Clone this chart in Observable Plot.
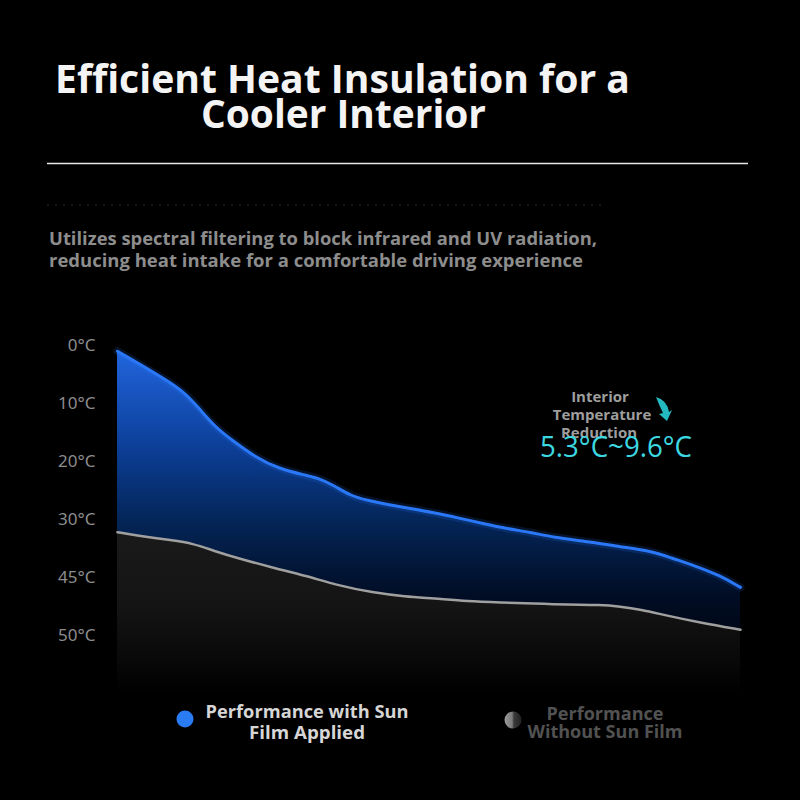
<!DOCTYPE html>
<html>
<head>
<meta charset="utf-8">
<script src="https://cdn.jsdelivr.net/npm/d3@7"></script>
<script src="https://cdn.jsdelivr.net/npm/@observablehq/plot@0.6"></script>
<style>
  html, body { margin: 0; padding: 0; background: #000; width: 800px; height: 800px; overflow: hidden; }
  #page { position: relative; width: 800px; height: 800px; background: #000; }
  #spacer { height: 300px; }
  #overlay { position: absolute; left: 0; top: 0; pointer-events: none; }
  #overlay text { font-family: "Open Sans", "Noto Sans", sans-serif; }
</style>
</head>
<body>
<div id="page">
  <div id="spacer"></div>
  <div id="chart"></div>
  <svg id="overlay" width="800" height="800" viewBox="0 0 800 800"></svg>
</div>
<script>
// ---- Data (x: relative time 0–100 across the chart, y: temperature-axis position units) ----
const xWith   = [0, 3.4, 8.8, 10.9, 13.0, 15.7, 18.5, 22.2, 25.8, 30.2, 32.1, 34.7, 37.4, 40.1, 43.3, 47.0, 50.7, 54.6, 58.7, 62.6, 66.3, 70.0, 75.4, 80.7, 86.0, 88.8, 92.5, 96.8, 100];
const yWith   = [1.0, 3.1, 6.6, 8.3, 10.7, 14.1, 16.4, 19.3, 21.2, 22.4, 22.8, 24.1, 25.9, 26.7, 27.4, 28.1, 28.8, 29.7, 30.7, 31.6, 32.2, 33.1, 33.8, 34.7, 35.5, 36.6, 37.9, 39.7, 41.7];
const xWithout = [0, 3.4, 8.8, 12.0, 15.7, 19.4, 24.9, 30.2, 35.5, 40.9, 46.2, 50.7, 56.2, 61.5, 66.8, 72.2, 77.5, 80.7, 83.9, 88.3, 93.6, 100];
const yWithout = [32.2, 32.8, 33.6, 34.1, 35.5, 36.7, 38.3, 39.7, 41.4, 42.6, 43.3, 43.6, 44.1, 44.3, 44.5, 44.7, 44.7, 45.0, 45.5, 46.6, 47.8, 49.0];
const yTickValues = [0, 10, 20, 30, 40, 50];
const yTickLabels = ["0°C", "10°C", "20°C", "30°C", "45°C", "50°C"];
const seriesNames = ["Performance with Sun Film Applied", "Performance Without Sun Film"];

const titleLines = ["Efficient Heat Insulation for a", "Cooler Interior"];
const subtitleLines = ["Utilizes spectral filtering to block infrared and UV radiation,", "reducing heat intake for a comfortable driving experience"];
const annotationLines = ["Interior", "Temperature", "Reduction"];
const annotationValue = "5.3°C~9.6°C";

const withFilm = xWith.map((x, i) => ({x, y: yWith[i]}));
const withoutFilm = xWithout.map((x, i) => ({x, y: yWithout[i]}));
const yBottom = 60;
const curve = "basis";

const plot = Plot.plot({
  width: 800,
  height: 400,
  marginLeft: 117,
  marginRight: 60,
  marginTop: 45,
  marginBottom: 7,
  style: {background: "#000", color: "#8c8c8c", fontSize: "17px", fontFamily: "'Noto Sans', sans-serif", overflow: "visible"},
  x: {domain: [0, 100], axis: null},
  y: {domain: [0, yBottom], reverse: true, ticks: yTickValues, tickFormat: d => yTickLabels[yTickValues.indexOf(d)], tickSize: 0, tickPadding: 22, label: null},
  marks: [
    Plot.areaY(withFilm, {x: "x", y1: yBottom, y2: "y", fill: "url(#blueGrad)", curve}),
    Plot.areaY(withoutFilm, {x: "x", y1: yBottom, y2: "y", fill: "url(#grayGrad)", curve}),
    Plot.line(withFilm, {x: "x", y: "y", stroke: "#2a78ff", strokeWidth: 8, strokeOpacity: 0.15, curve}),
    Plot.line(withFilm, {x: "x", y: "y", stroke: "#2a78f8", strokeWidth: 3, curve}),
    Plot.line(withoutFilm, {x: "x", y: "y", stroke: "#a0a0a0", strokeWidth: 2.5, curve})
  ]
});

// gradients defined in the scale's coordinate space
const ys = plot.scale("y");
const NS = "http://www.w3.org/2000/svg";
function el(tag, attrs, parent) {
  const e = document.createElementNS(NS, tag);
  for (const k in attrs) e.setAttribute(k, attrs[k]);
  if (parent) parent.appendChild(e);
  return e;
}
const defs = el("defs", {});
const bg = el("linearGradient", {id: "blueGrad", gradientUnits: "userSpaceOnUse", x1: 0, x2: 0, y1: ys.apply(0), y2: ys.apply(yBottom)}, defs);
[[0, "#2267e2"], [0.3, "#0c3e96"], [0.5, "#042659"], [0.72, "#010d25"], [1, "#000000"]].forEach(([o, c]) => el("stop", {offset: o, "stop-color": c}, bg));
const gg = el("linearGradient", {id: "grayGrad", gradientUnits: "userSpaceOnUse", x1: 0, x2: 0, y1: ys.apply(0), y2: ys.apply(yBottom)}, defs);
[[0.5, "#1b1b1b"], [0.75, "#141414"], [0.9, "#090909"], [1, "#000000"]].forEach(([o, c]) => el("stop", {offset: o, "stop-color": c}, gg));
const svgRoot = plot.tagName.toLowerCase() === "svg" ? plot : plot.querySelector("svg");
svgRoot.insertBefore(defs, svgRoot.firstChild);
document.getElementById("chart").appendChild(plot);

// ---- overlay texts (title, subtitle, annotation, legend) ----
const ov = document.getElementById("overlay");
const odefs = el("defs", {}, ov);
const lg = el("linearGradient", {id: "legGray", x1: 0, x2: 1, y1: 0, y2: 0}, odefs);
[[0, "#9a9a9a"], [0.45, "#7a7a7a"], [0.55, "#3a3a3a"], [1, "#222"]].forEach(([o, c]) => el("stop", {offset: o, "stop-color": c}, lg));

function txt(s, attrs) { const t = el("text", attrs, ov); t.textContent = s; return t; }

txt(titleLines[0], {x: 55, y: 93, "font-size": 39, "font-weight": 700, fill: "#f4f4f4", textLength: 575, lengthAdjust: "spacingAndGlyphs"});
txt(titleLines[1], {x: 201, y: 128, "font-size": 39, "font-weight": 700, fill: "#f4f4f4", textLength: 285, lengthAdjust: "spacingAndGlyphs"});
el("line", {x1: 47, x2: 748, y1: 163.5, y2: 163.5, stroke: "#e6e6e6", "stroke-width": 1.5}, ov);
el("line", {x1: 47, x2: 603, y1: 205, y2: 205, stroke: "#2a2a2a", "stroke-width": 1, "stroke-dasharray": "2 6"}, ov);
txt(subtitleLines[0], {x: 49, y: 245, "font-size": 17, "font-weight": 700, fill: "#8d8d8d", textLength: 548, lengthAdjust: "spacingAndGlyphs"});
txt(subtitleLines[1], {x: 49, y: 267, "font-size": 17, "font-weight": 700, fill: "#8d8d8d", textLength: 534, lengthAdjust: "spacingAndGlyphs"});

// annotation
txt(annotationLines[0], {x: 600, y: 402, "text-anchor": "middle", "font-size": 15, "font-weight": 700, fill: "#9e9e9e"});
txt(annotationLines[1], {x: 602, y: 420, "text-anchor": "middle", "font-size": 15, "font-weight": 700, fill: "#9e9e9e"});
txt(annotationLines[2], {x: 599, y: 438, "text-anchor": "middle", "font-size": 15, "font-weight": 700, fill: "#9e9e9e"});
el("path", {d: "M656,397 Q667,400 669,412 L672,410 L667,421 L659,414 L663,413 Q659,405 656,397 Z", fill: "#24b8c0"}, ov);
txt(annotationValue, {x: 540, y: 457, "font-size": 29, "font-weight": 400, fill: "#3cd8e2", textLength: 152, lengthAdjust: "spacingAndGlyphs"});

// legend
el("circle", {cx: 185, cy: 719, r: 8.5, fill: "#2a7cf5"}, ov);
txt("Performance with Sun", {x: 307, y: 718, "text-anchor": "middle", "font-size": 17.5, "font-weight": 700, fill: "#d6d6d6", textLength: 203, lengthAdjust: "spacingAndGlyphs"});
txt("Film Applied", {x: 307, y: 739, "text-anchor": "middle", "font-size": 17.5, "font-weight": 700, fill: "#d6d6d6", textLength: 116, lengthAdjust: "spacingAndGlyphs"});
el("circle", {cx: 513, cy: 720, r: 8.5, fill: "url(#legGray)"}, ov);
txt("Performance", {x: 605, y: 720, "text-anchor": "middle", "font-size": 17.5, "font-weight": 700, fill: "#525252", textLength: 117, lengthAdjust: "spacingAndGlyphs"});
txt("Without Sun Film", {x: 605, y: 738, "text-anchor": "middle", "font-size": 17.5, "font-weight": 700, fill: "#525252", textLength: 155, lengthAdjust: "spacingAndGlyphs"});
</script>
</body>
</html>
